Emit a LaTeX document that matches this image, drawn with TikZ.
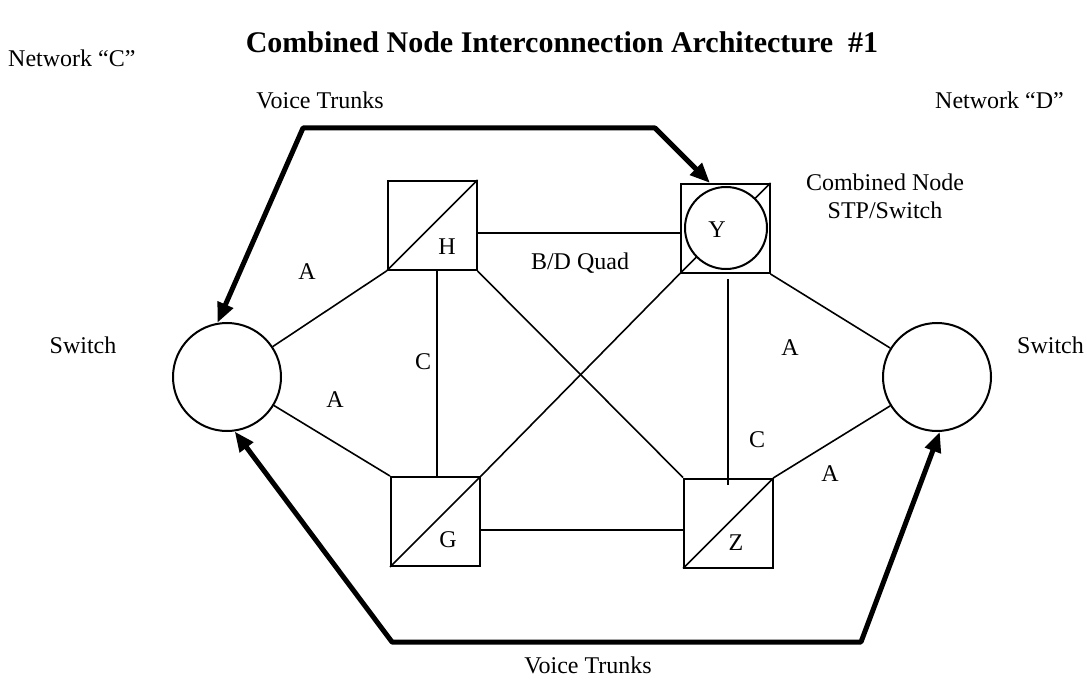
\documentclass[tikz,border=0pt]{standalone}
\usepackage{fontspec}
\setmainfont{Liberation Serif}
\usetikzlibrary{arrows.meta}
\begin{document}
\begin{tikzpicture}[x=1pt,y=-1pt,
  box/.style={draw,line width=2pt,minimum size=89pt,inner sep=0pt},
  sw/.style={draw,circle,line width=2pt,minimum size=108pt,inner sep=0pt},
  lbl/.style={font=\fontsize{24}{28}\selectfont,inner sep=0pt},
  link/.style={line width=1.6pt},
  trunk/.style={line width=5pt,line join=round,{Triangle[length=20pt,width=16pt]}-{Triangle[length=20pt,width=16pt]}}]
\useasboundingbox (0,0) rectangle (1087,687);
% boxes and switches
\node[box] (H) at (432,225.5) {};
\node[box] (Y) at (725,228.5) {};
\node[box] (G) at (435.5,521.5) {};
\node[box] (Z) at (728.5,523) {};
\node[sw] (L) at (227,377) {};
\node[sw] (R) at (937,377) {};
% diagonals
\draw[link] (H.south west) -- (H.north east);
\draw[link] (G.south west) -- (G.north east);
\draw[link] (Z.south west) -- (Z.north east);
\draw[link] (Y.south west) -- (Y.north east);
\node[circle,draw,fill=white,line width=2pt,minimum size=82pt,inner sep=0pt] (Yc) at (726,228) {};
% node letters
\node[lbl] (hl) at (447,247) {H};
\node[lbl] (yl) at (717,230) {Y};
\node[lbl] (gl) at (448,540) {G};
\node[lbl] (zl) at (736,543) {Z};
% links
\draw[link] ([yshift=-7.5pt]H.east) -- ([yshift=-7.5pt]H.east -| Y.west);
\draw[link] ([xshift=5pt]H.south) -- ([xshift=5pt]H.south |- G.north);
\draw[link] ([yshift=-8.5pt]G.east) -- ([yshift=-8.5pt]G.east -| Z.west);
\draw[link,shorten <=5pt,shorten >=-7pt] ([xshift=3pt]Y.south) -- ([xshift=3pt]Y.south |- Z.north);
\draw[link] (H.south east) -- (Z.north west);
\draw[link] (G.north east) -- (Y.south west);
\draw[link] (L) -- (H.south west);
\draw[link] (L) -- (G.north west);
\draw[link] (R) -- (Y.south east);
\draw[link] (R) -- (Z.north east);
% voice trunks
\coordinate (t1) at (303,128);
\coordinate (t2) at (655,128);
\coordinate (b1) at (392,642);
\coordinate (b2) at (861,642);
\draw[trunk] (L.100) -- (t1) -- (t2) -- ([xshift=-15pt]Y.north);
\draw[trunk] (L.-82) -- (b1) -- (b2) -- (R.-87);
% texts
\node[font=\bfseries\fontsize{30}{34}\selectfont,inner sep=0pt] (title) at (562,42) {Combined Node Interconnection Architecture\ \ \#1};
\node[lbl,anchor=west] (netc) at (8,58) {Network “C”};
\node[lbl,anchor=west] (netd) at (935,100) {Network “D”};
\node[lbl] (vt1) at (320,100) {Voice Trunks};
\node[lbl] (vt2) at (588,665) {Voice Trunks};
\node[lbl] (cn1) at (885,182) {Combined Node};
\node[lbl] (cn2) at (885,210) {STP/Switch};
\node[lbl] (swl) at (83,345) {Switch};
\node[lbl,anchor=west] (swr) at (1017,345) {Switch};
\node[lbl] (bd) at (580,263) {B/D Quad};
\node[lbl] (a1) at (307,272) {A};
\node[lbl] (a2) at (335,400) {A};
\node[lbl] (c1) at (423,362) {C};
\node[lbl] (c2) at (757,440) {C};
\node[lbl] (a3) at (790,348) {A};
\node[lbl] (a4) at (830,474) {A};
\end{tikzpicture}
\end{document}
